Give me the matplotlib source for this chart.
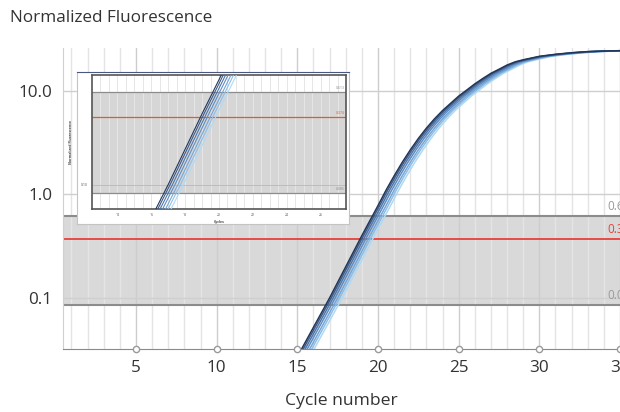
import matplotlib
matplotlib.use("Agg")
import matplotlib.pyplot as plt
import numpy as np

plt.rcParams['font.family'] = ['Open Sans', 'DejaVu Sans']

W, H = 620, 412

# data (darkest curve), cycle -> normalized fluorescence
cycles = [14, 15, 16, 17, 18, 19, 20, 20.5, 21, 21.5, 22, 22.5, 23, 23.5, 24,
          24.5, 25, 25.5, 26, 26.5, 27, 27.5, 28, 28.5, 29, 30, 31, 32, 33, 34, 35]
fluor = [0.014, 0.027, 0.052, 0.10, 0.20, 0.40, 0.78, 1.10, 1.51, 2.04, 2.69,
         3.47, 4.37, 5.37, 6.46, 7.59, 8.91, 10.2, 11.7, 13.2, 14.8, 16.2,
         17.8, 19.1, 20.0, 21.6, 22.6, 23.4, 24.0, 24.3, 24.5]
# each replicate sits a little later than the darkest one (cycles)
shifts = [0.0, 0.1, 0.22, 0.35, 0.5, 0.63, 0.78]
colors = ['#22365a', '#3b5a86', '#4f76a8', '#5f8dc2', '#74a6d6', '#90bde6', '#addaf7']

thr_upper = 0.613
thr_mid = 0.367
thr_lower = 0.085
inset_mid = 0.374

x_ticks = [5, 10, 15, 20, 25, 30, 35]
y_ticks = [0.1, 1.0, 10.0]
y_labels = ['0.1', '1.0', '10.0']
inset_ticks = [14, 16, 18, 20, 22, 24, 26]


def px_box(x0, y0, x1, y1):
    return [x0 / W, 1 - y1 / H, (x1 - x0) / W, (y1 - y0) / H]


fig = plt.figure(figsize=(W / 100, H / 100), dpi=100)

# ---- main chart
ax = fig.add_axes(px_box(63.4, 48, 620, 349))
ax.set_yscale('log')
ax.set_xlim(0.5, 35.0)
ax.set_ylim(0.0321, 26)

ax.axhspan(thr_lower, thr_upper, color='#d9d9d9', zorder=0.5, lw=0)
for c in range(1, 36):
    ax.axvline(c, color='#cdcdcd' if c % 5 == 0 else '#e4e4e4', lw=1, zorder=1)
for yv in y_ticks:
    ax.axhline(yv, color='#cfcfcf', lw=1, zorder=1)
ax.axhline(thr_upper, color='#8c8c8c', lw=1.5, zorder=2)
ax.axhline(thr_lower, color='#8c8c8c', lw=1.5, zorder=2)
ax.axhline(thr_mid, color='#e8413a', lw=1.3, zorder=2)

for s, col in zip(shifts[::-1], colors[::-1]):
    ax.plot(np.array(cycles) + s, fluor, color=col, lw=1.1, zorder=3)

for val, txt, col in [(thr_upper, '0.613', '#9a9a9a'), (thr_mid, '0.367', '#e8413a'),
                      (thr_lower, '0.085', '#9a9a9a')]:
    ax.annotate(txt, xy=(0.977, val), xycoords=('axes fraction', 'data'),
                xytext=(0, 2.5), textcoords='offset points', ha='left', va='bottom',
                fontsize=8.5, color=col, annotation_clip=False)

for side in ['top', 'right']:
    ax.spines[side].set_visible(False)
ax.spines['bottom'].set_color('#8a8a8a')
ax.spines['left'].set_color('#d0d0d0')
ax.set_xticks(x_ticks)
ax.set_yticks(y_ticks)
ax.set_yticklabels(y_labels)
ax.minorticks_off()
ax.tick_params(axis='both', length=0, labelsize=12.3, labelcolor='#333333')
ax.tick_params(axis='x', pad=8)
ax.tick_params(axis='y', pad=8)
ax.plot(x_ticks, [0.0321] * len(x_ticks), 'o', ms=4.5, mfc='white', mec='#9a9a9a',
        mew=1, clip_on=False, zorder=5)
ax.set_xlabel('Cycle number', fontsize=12.6, color='#333333', labelpad=12)
fig.text(10 / W, 1 - 18 / H, 'Normalized Fluorescence', fontsize=12.3,
         color='#333333', ha='left', va='center')

# ---- inset (screenshot of zoomed view)
frame = fig.add_axes(px_box(77, 72, 349, 224))
frame.set_xticks([])
frame.set_yticks([])
frame.set_facecolor('white')
for sp in frame.spines.values():
    sp.set_color('#c4c4c4')
frame.spines['top'].set_color('#4a5784')
frame.set_zorder(10)

ins = fig.add_axes(px_box(92, 75, 346, 209))
ins.set_zorder(11)
ins.set_yscale('log')
ins.set_xlim(12.5, 27.5)
ins.set_ylim(0.062, 0.855)
ins.axhspan(thr_lower, thr_upper, color='#d6d6d6', zorder=0.5, lw=0)
for c in np.arange(13, 27.5, 0.5):
    ins.axvline(c, color='#e6e6e6', lw=0.7, zorder=1)
ins.axhline(0.1, color='#bdbdbd', lw=0.7, zorder=1)
ins.axhline(thr_upper, color='#8c8c8c', lw=0.9, zorder=2)
ins.axhline(thr_lower, color='#8c8c8c', lw=0.9, zorder=2)
ins.axhline(inset_mid, color='#e8572f', lw=0.9, zorder=2)
for s, col in zip(shifts[::-1], colors[::-1]):
    ins.plot(np.array(cycles) + s * 1.15, fluor, color=col, lw=0.8, zorder=3)
for val, txt, col in [(thr_upper, '0.613', '#8a8a8a'), (inset_mid, '0.374', '#e8572f'),
                      (thr_lower, '0.085', '#8a8a8a')]:
    ins.annotate(txt, xy=(0.96, val), xycoords=('axes fraction', 'data'),
                 xytext=(0, 1.5), textcoords='offset points', ha='left', va='bottom',
                 fontsize=2.5, color=col)
ins.set_xticks(inset_ticks)
ins.set_xticklabels([str(t) for t in inset_ticks])
ins.set_yticks([0.1])
ins.set_yticklabels(['0.10'])
ins.minorticks_off()
ins.tick_params(length=0, labelsize=2.5, labelcolor='#555555', pad=3)
for sp in ins.spines.values():
    sp.set_color('#555555')
    sp.set_linewidth(1.2)
ins.set_xlabel('Cycles', fontsize=2.5, color='#444444', labelpad=2, fontweight='bold')
ins.set_ylabel('Normalized Fluorescence', fontsize=2.5, color='#444444', labelpad=6,
               fontweight='bold')

fig.savefig('out.png', dpi=100)
